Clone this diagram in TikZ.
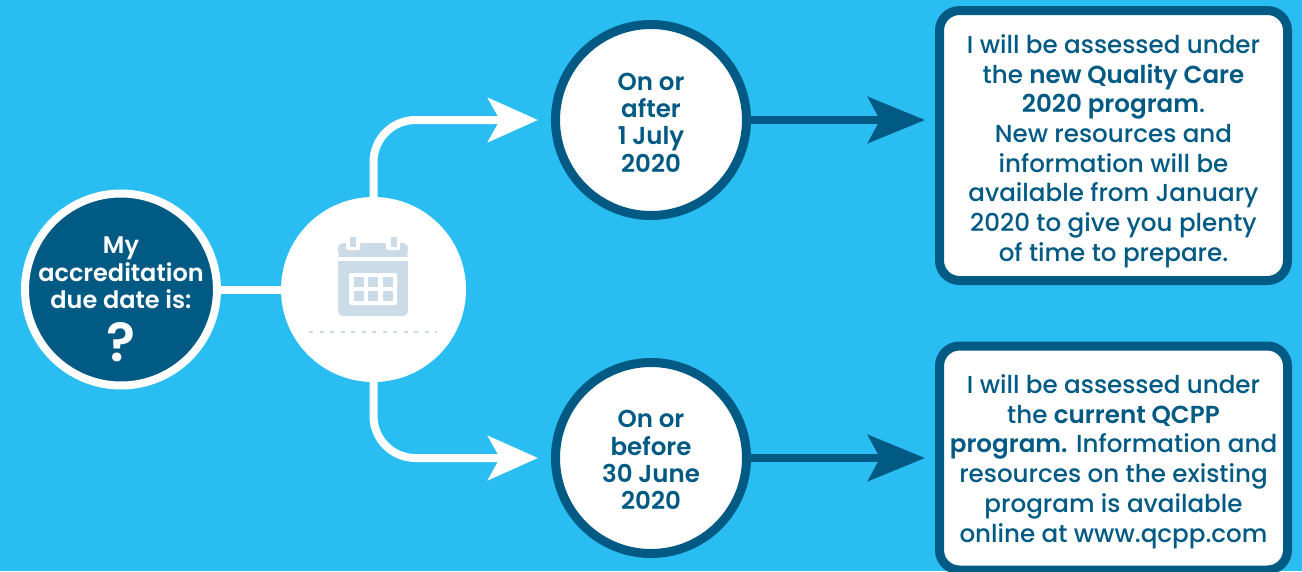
\documentclass[tikz,border=0pt]{standalone}
\usepackage{fontspec}
\setmainfont{Poppins Medium}[BoldFont=Poppins SemiBold]
\usetikzlibrary{arrows.meta}
\definecolor{skybg}{HTML}{29BDF2}
\definecolor{navy}{HTML}{005A84}
\definecolor{iconblue}{HTML}{CCDBE8}
\tikzset{
  datecirc/.style={circle,draw=navy,line width=9pt,fill=white,minimum size=191pt,inner sep=0pt},
  datetxt/.style={align=center,text=navy,font=\fontsize{24.5}{27.3}\selectfont\bfseries},
  infobox/.style={rectangle,rounded corners=20pt,draw=navy,line width=9pt,fill=white,minimum width=348pt,inner sep=0pt},
  infotxt/.style={align=center,text=navy,font=\fontsize{24.6}{29.7}\selectfont},
  whitearrow/.style={draw=white,line width=8pt,rounded corners=42pt,-{Stealth[length=50pt,width=44pt,inset=12pt]}},
  navyarrow/.style={draw=navy,line width=8pt,-{Stealth[length=57pt,width=46pt,inset=12pt]}},
}
\begin{document}
\begin{tikzpicture}[x=1pt,y=-1pt]
\useasboundingbox (0,0) rectangle (1302,571);
\fill[skybg] (0,0) rectangle (1302,571);
% start node and middle disc
\node[circle,draw=white,line width=8pt,fill=navy,minimum size=192pt,inner sep=0pt] (due) at (121,289.5) {};
\node[circle,fill=white,minimum size=185pt,inner sep=0pt] (cal) at (373.5,289.5) {};
\node[text=white,align=center,font=\fontsize{24}{27.3}\selectfont\bfseries] (duetxt) at (121,273) {My\\accreditation\\due date is:};
\node[text=white,font=\fontsize{54}{54}\selectfont\bfseries] (mark) at (121,342) {?};
% date circles
\node[datecirc] (after) at (651,120) {};
\node[datecirc] (before) at (651,458) {};
\node[datetxt] (afterlbl) at (651,122.5) {On or\\after\\1 July\\2020};
\node[datetxt] (beforelbl) at (651,460) {On or\\before\\30 June\\2020};
% info boxes
\node[infobox,minimum height=270pt] (newbox) at (1113.5,145.5) {};
\node[infobox,minimum height=224pt] (curbox) at (1113.5,458) {};
\node[infotxt] (newlbl) at (1113.5,151) {I will be assessed under\\the \textbf{new Quality Care}\\\textbf{2020 program}.\\New resources and\\information will be\\available from January\\2020 to give you plenty\\of time to prepare.};
\node[infotxt] (curlbl) at (1113.5,461.5) {I will be assessed under\\the \textbf{current QCPP}\\\textbf{program.} Information and\\resources on the existing\\program is available\\online at www.qcpp.com};
% connectors
\coordinate (upend) at (538,120);
\coordinate (downend) at (538,458);
\coordinate (newtip) at (925,120);
\coordinate (curtip) at (925,458);
\draw[draw=white,line width=8pt] (due.east) -- (cal.west);
\draw[whitearrow] (cal.north) -- (cal.north |- upend) -- (upend);
\draw[whitearrow] (cal.south) -- (cal.south |- downend) -- (downend);
\draw[navyarrow] (after.east) -- (newtip);
\draw[navyarrow] (before.east) -- (curtip);
% calendar icon
\fill[iconblue,rounded corners=5pt] (338,243) rectangle (408,257);
\fill[iconblue,rounded corners=5pt] (338,252) rectangle (408,316);
\fill[white] (338,257) rectangle (408,261);
\fill[white,rounded corners=2pt] (346,237) rectangle (360,250);
\fill[white,rounded corners=2pt] (386,237) rectangle (400,250);
\fill[iconblue] (350,237) rectangle (356,247);
\fill[iconblue] (391,237) rectangle (397,247);
\fill[white,rounded corners=2pt] (349,273) rectangle (397,305);
\foreach \cx in {354,368,383}
  \foreach \cy in {277,291}
    \fill[iconblue] (\cx,\cy) rectangle +(10,10);
\draw[iconblue,line width=1.5pt,dash pattern=on 4pt off 6.5pt] (309,332) -- (437,332);
\end{tikzpicture}
\end{document}
